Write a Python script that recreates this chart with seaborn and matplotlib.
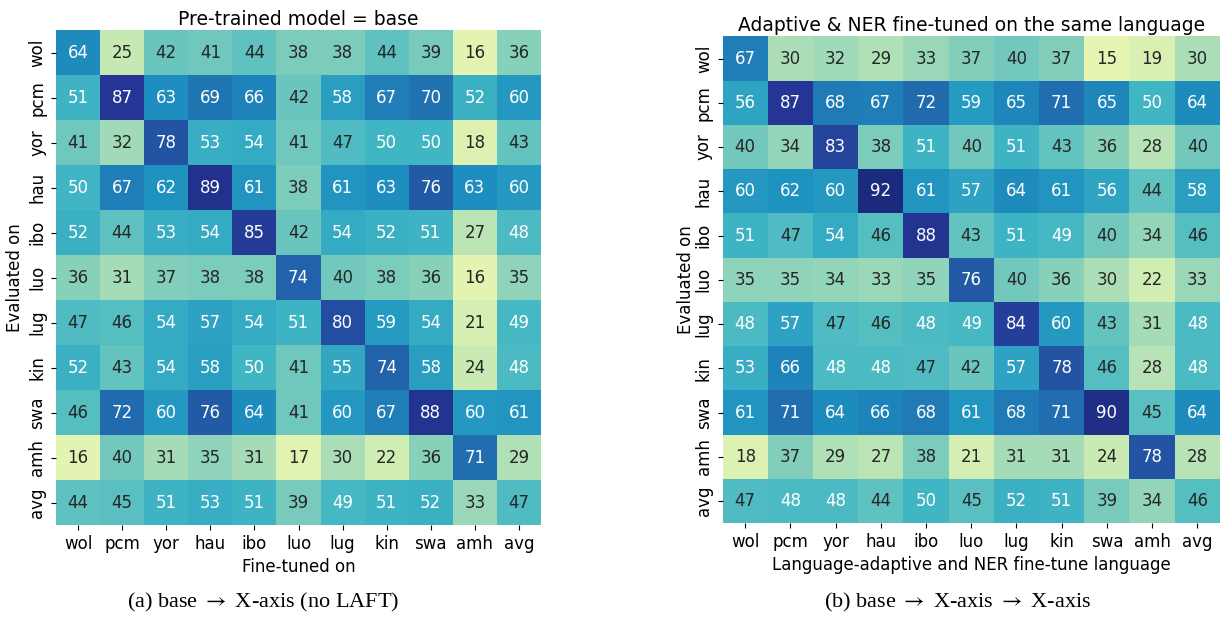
import numpy as np
import matplotlib
matplotlib.use("Agg")
import matplotlib.pyplot as plt
import seaborn as sns

plt.rcParams['font.family'] = ['DejaVu Sans']
plt.rcParams['mathtext.fontset'] = 'stix'

langs = ['wol', 'pcm', 'yor', 'hau', 'ibo', 'luo', 'lug', 'kin', 'swa', 'amh', 'avg']

# rows = evaluated on, cols = fine-tuned on
base_scores = [
    [64, 25, 42, 41, 44, 38, 38, 44, 39, 16, 36],
    [51, 87, 63, 69, 66, 42, 58, 67, 70, 52, 60],
    [41, 32, 78, 53, 54, 41, 47, 50, 50, 18, 43],
    [50, 67, 62, 89, 61, 38, 61, 63, 76, 63, 60],
    [52, 44, 53, 54, 85, 42, 54, 52, 51, 27, 48],
    [36, 31, 37, 38, 38, 74, 40, 38, 36, 16, 35],
    [47, 46, 54, 57, 54, 51, 80, 59, 54, 21, 49],
    [52, 43, 54, 58, 50, 41, 55, 74, 58, 24, 48],
    [46, 72, 60, 76, 64, 41, 60, 67, 88, 60, 61],
    [16, 40, 31, 35, 31, 17, 30, 22, 36, 71, 29],
    [44, 45, 51, 53, 51, 39, 49, 51, 52, 33, 47],
]

adapt_scores = [
    [67, 30, 32, 29, 33, 37, 40, 37, 15, 19, 30],
    [56, 87, 68, 67, 72, 59, 65, 71, 65, 50, 64],
    [40, 34, 83, 38, 51, 40, 51, 43, 36, 28, 40],
    [60, 62, 60, 92, 61, 57, 64, 61, 56, 44, 58],
    [51, 47, 54, 46, 88, 43, 51, 49, 40, 34, 46],
    [35, 35, 34, 33, 35, 76, 40, 36, 30, 22, 33],
    [48, 57, 47, 46, 48, 49, 84, 60, 43, 31, 48],
    [53, 66, 48, 48, 47, 42, 57, 78, 46, 28, 48],
    [61, 71, 64, 66, 68, 61, 68, 71, 90, 45, 64],
    [18, 37, 29, 27, 38, 21, 31, 31, 24, 78, 28],
    [47, 48, 48, 44, 50, 45, 52, 51, 39, 34, 46],
]

fig = plt.figure(figsize=(12.31, 6.17), dpi=100)
ax1 = fig.add_axes([0.0455, 0.149, 0.394, 0.802])
ax2 = fig.add_axes([0.587, 0.152, 0.404, 0.789])

sns.heatmap(np.array(base_scores), ax=ax1, cmap='YlGnBu', vmin=0, vmax=100,
            annot=True, fmt='d', cbar=False, annot_kws={'size': 12},
            xticklabels=langs, yticklabels=langs)
ax1.set_title('Pre-trained model = base', fontsize=13.5, pad=4)
ax1.set_xlabel('Fine-tuned on', fontsize=12)
ax1.set_ylabel('Evaluated on', fontsize=12, labelpad=3)

sns.heatmap(np.array(adapt_scores), ax=ax2, cmap='YlGnBu', vmin=0, vmax=100,
            annot=True, fmt='d', cbar=False, annot_kws={'size': 12},
            xticklabels=langs, yticklabels=langs)
ax2.set_title('Adaptive & NER fine-tuned on the same language', fontsize=13.5, pad=4)
ax2.set_xlabel('Language-adaptive and NER fine-tune language', fontsize=12)
ax2.set_ylabel('Evaluated on', fontsize=12, labelpad=0)

for ax in (ax1, ax2):
    ax.tick_params(labelsize=12)
    ax.set_yticklabels(langs, rotation=90, va='center')
    ax.set_xticklabels(langs, rotation=0)

fig.text(0.214, 0.015, r'(a) base $\rightarrow$ X-axis (no LAFT)', ha='center',
         family='Liberation Serif', fontsize=16)
fig.text(0.778, 0.015, r'(b) base $\rightarrow$ X-axis $\rightarrow$ X-axis', ha='center',
         family='Liberation Serif', fontsize=16)

fig.savefig('out.png', dpi=100)
